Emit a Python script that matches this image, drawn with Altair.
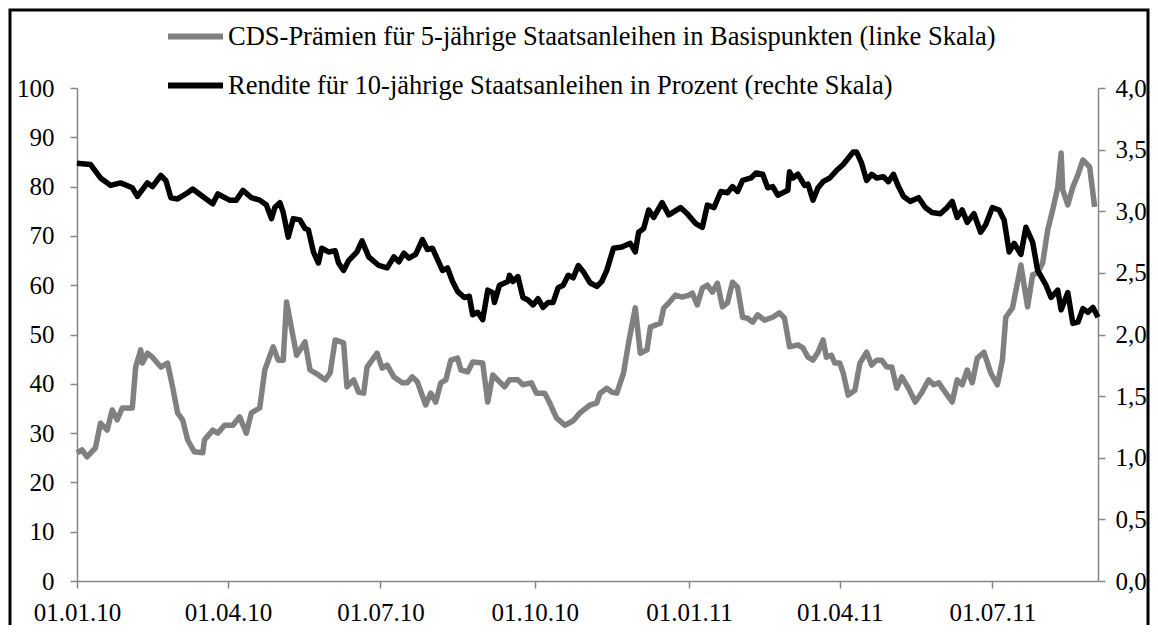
import altair as alt
import pandas as pd

LABEL_CDS = "CDS-Prämien für 5-jährige Staatsanleihen in Basispunkten (linke Skala)"
LABEL_YLD = "Rendite für 10-jährige Staatsanleihen in Prozent (rechte Skala)"

cds_dates = [
    "2010-01-01", "2010-01-04", "2010-01-07", "2010-01-12", "2010-01-15", "2010-01-19", "2010-01-22", "2010-01-25",
    "2010-01-28", "2010-02-03", "2010-02-05", "2010-02-08", "2010-02-09", "2010-02-12", "2010-02-15", "2010-02-20",
    "2010-02-24", "2010-02-27", "2010-03-02", "2010-03-05", "2010-03-08", "2010-03-12", "2010-03-17", "2010-03-18",
    "2010-03-23", "2010-03-26", "2010-03-30", "2010-04-04", "2010-04-08", "2010-04-12", "2010-04-15", "2010-04-20",
    "2010-04-23", "2010-04-28", "2010-05-01", "2010-05-04", "2010-05-06", "2010-05-12", "2010-05-17", "2010-05-20",
    "2010-05-25", "2010-05-29", "2010-06-01", "2010-06-04", "2010-06-09", "2010-06-11", "2010-06-15", "2010-06-18",
    "2010-06-21", "2010-06-23", "2010-06-26", "2010-06-29", "2010-07-02", "2010-07-05", "2010-07-09", "2010-07-14",
    "2010-07-17", "2010-07-20", "2010-07-23", "2010-07-28", "2010-07-31", "2010-08-03", "2010-08-06", "2010-08-09",
    "2010-08-12", "2010-08-16", "2010-08-18", "2010-08-22", "2010-08-25", "2010-08-31", "2010-09-03", "2010-09-06",
    "2010-09-10", "2010-09-13", "2010-09-16", "2010-09-21", "2010-09-24", "2010-09-29", "2010-10-02", "2010-10-07",
    "2010-10-10", "2010-10-14", "2010-10-19", "2010-10-24", "2010-10-28", "2010-11-03", "2010-11-07", "2010-11-09",
    "2010-11-13", "2010-11-16", "2010-11-19", "2010-11-23", "2010-11-26", "2010-11-30", "2010-12-03", "2010-12-07",
    "2010-12-09", "2010-12-15", "2010-12-17", "2010-12-20", "2010-12-24", "2010-12-28", "2011-01-01", "2011-01-03",
    "2011-01-06", "2011-01-09", "2011-01-12", "2011-01-15", "2011-01-18", "2011-01-21", "2011-01-24", "2011-01-27",
    "2011-01-30", "2011-02-02", "2011-02-05", "2011-02-08", "2011-02-11", "2011-02-15", "2011-02-20", "2011-02-24",
    "2011-02-27", "2011-03-02", "2011-03-07", "2011-03-10", "2011-03-13", "2011-03-16", "2011-03-19", "2011-03-22",
    "2011-03-24", "2011-03-27", "2011-03-29", "2011-04-01", "2011-04-03", "2011-04-06", "2011-04-10", "2011-04-13",
    "2011-04-17", "2011-04-20", "2011-04-23", "2011-04-26", "2011-04-29", "2011-05-02", "2011-05-05", "2011-05-08",
    "2011-05-12", "2011-05-16", "2011-05-20", "2011-05-24", "2011-05-27", "2011-05-30", "2011-06-02", "2011-06-05",
    "2011-06-07", "2011-06-10", "2011-06-13", "2011-06-16", "2011-06-19", "2011-06-22", "2011-06-26", "2011-06-30",
    "2011-07-04", "2011-07-07", "2011-07-09", "2011-07-13", "2011-07-18", "2011-07-22", "2011-07-25", "2011-07-28",
    "2011-07-31", "2011-08-03", "2011-08-06", "2011-08-09", "2011-08-11", "2011-08-12", "2011-08-15", "2011-08-18",
    "2011-08-21", "2011-08-24", "2011-08-28", "2011-08-31",
]
cds_values = [
    26.0, 26.6, 25.2, 27.0, 32.0, 30.6, 34.7, 32.7,
    35.1, 35.1, 43.4, 46.9, 44.2, 46.2, 45.4, 43.4,
    44.2, 39.4, 34.1, 32.7, 28.6, 26.2, 26.0, 28.6,
    30.6, 30.0, 31.6, 31.6, 33.3, 30.0, 34.1, 35.1,
    42.8, 47.5, 44.8, 44.8, 56.6, 45.8, 48.5, 42.8,
    41.8, 40.8, 42.2, 48.9, 48.3, 39.4, 40.8, 38.3,
    38.1, 43.4, 44.8, 46.2, 43.2, 43.8, 41.4, 40.2,
    40.2, 41.4, 40.4, 35.7, 38.1, 36.3, 40.2, 40.8,
    44.8, 45.2, 42.8, 42.4, 44.4, 44.2, 36.3, 41.8,
    40.4, 39.4, 40.8, 40.8, 39.8, 40.2, 38.1, 38.1,
    36.1, 33.1, 31.6, 32.5, 34.1, 35.7, 36.1, 38.1,
    39.1, 38.3, 38.1, 42.2, 48.3, 55.4, 46.2, 46.9,
    51.5, 52.3, 55.4, 56.4, 58.0, 57.6, 58.0, 58.4,
    56.0, 59.4, 60.0, 58.6, 60.4, 55.6, 56.4, 60.6,
    59.6, 53.5, 53.3, 52.5, 54.0, 52.9, 53.5, 54.4,
    53.3, 47.5, 47.9, 47.3, 45.4, 44.8, 46.4, 48.9,
    45.4, 45.8, 44.2, 44.2, 42.2, 37.7, 38.7, 44.2,
    46.4, 43.8, 44.8, 44.8, 43.4, 43.4, 39.1, 41.4,
    39.1, 36.3, 38.3, 40.8, 39.8, 40.2, 38.7, 37.3,
    36.3, 40.8, 39.8, 42.8, 40.2, 45.2, 46.4, 42.2,
    39.8, 44.8, 53.5, 55.4, 64.1, 55.6, 62.1, 62.5,
    64.5, 71.2, 75.3, 79.9, 86.8, 79.3, 76.3, 79.9,
    82.4, 85.4, 84.0, 75.9,
]

yield_dates = [
    "2010-01-01", "2010-01-09", "2010-01-15", "2010-01-21", "2010-01-27", "2010-02-03", "2010-02-06", "2010-02-12",
    "2010-02-15", "2010-02-20", "2010-02-23", "2010-02-26", "2010-03-02", "2010-03-08", "2010-03-11", "2010-03-17",
    "2010-03-23", "2010-03-26", "2010-04-02", "2010-04-06", "2010-04-10", "2010-04-15", "2010-04-20", "2010-04-24",
    "2010-04-27", "2010-04-29", "2010-05-02", "2010-05-04", "2010-05-07", "2010-05-10", "2010-05-14", "2010-05-17",
    "2010-05-19", "2010-05-22", "2010-05-25", "2010-05-27", "2010-05-31", "2010-06-04", "2010-06-06", "2010-06-09",
    "2010-06-12", "2010-06-17", "2010-06-20", "2010-06-24", "2010-06-30", "2010-07-05", "2010-07-09", "2010-07-12",
    "2010-07-15", "2010-07-18", "2010-07-22", "2010-07-26", "2010-07-29", "2010-08-01", "2010-08-07", "2010-08-10",
    "2010-08-13", "2010-08-16", "2010-08-20", "2010-08-23", "2010-08-25", "2010-08-28", "2010-08-31", "2010-09-03",
    "2010-09-06", "2010-09-07", "2010-09-10", "2010-09-15", "2010-09-16", "2010-09-18", "2010-09-21", "2010-09-24",
    "2010-09-27", "2010-09-30", "2010-10-03", "2010-10-06", "2010-10-09", "2010-10-12", "2010-10-15", "2010-10-18",
    "2010-10-21", "2010-10-24", "2010-10-27", "2010-10-30", "2010-11-03", "2010-11-07", "2010-11-10", "2010-11-13",
    "2010-11-17", "2010-11-22", "2010-11-27", "2010-11-30", "2010-12-02", "2010-12-05", "2010-12-08", "2010-12-11",
    "2010-12-16", "2010-12-20", "2010-12-27", "2010-12-31", "2011-01-05", "2011-01-09", "2011-01-12", "2011-01-16",
    "2011-01-20", "2011-01-24", "2011-01-27", "2011-01-30", "2011-02-02", "2011-02-07", "2011-02-10", "2011-02-14",
    "2011-02-17", "2011-02-20", "2011-02-23", "2011-03-01", "2011-03-02", "2011-03-04", "2011-03-07", "2011-03-11",
    "2011-03-13", "2011-03-16", "2011-03-19", "2011-03-22", "2011-03-26", "2011-03-30", "2011-04-03", "2011-04-06",
    "2011-04-09", "2011-04-11", "2011-04-14", "2011-04-17", "2011-04-20", "2011-04-23", "2011-04-27", "2011-04-30",
    "2011-05-03", "2011-05-06", "2011-05-09", "2011-05-13", "2011-05-18", "2011-05-22", "2011-05-26", "2011-05-31",
    "2011-06-04", "2011-06-07", "2011-06-10", "2011-06-13", "2011-06-16", "2011-06-20", "2011-06-24", "2011-06-27",
    "2011-07-01", "2011-07-05", "2011-07-08", "2011-07-11", "2011-07-14", "2011-07-18", "2011-07-21", "2011-07-25",
    "2011-07-28", "2011-08-02", "2011-08-05", "2011-08-09", "2011-08-11", "2011-08-15", "2011-08-18", "2011-08-21",
    "2011-08-24", "2011-08-27", "2011-08-30", "2011-09-02",
]
yield_values = [
    3.39, 3.38, 3.27, 3.21, 3.23, 3.19, 3.12, 3.23,
    3.20, 3.29, 3.25, 3.11, 3.10, 3.15, 3.18, 3.12,
    3.06, 3.14, 3.09, 3.09, 3.17, 3.11, 3.09, 3.05,
    2.94, 3.03, 3.07, 2.99, 2.79, 2.94, 2.93, 2.86,
    2.85, 2.67, 2.58, 2.70, 2.67, 2.68, 2.58, 2.52,
    2.60, 2.67, 2.76, 2.63, 2.56, 2.54, 2.63, 2.59,
    2.66, 2.62, 2.65, 2.77, 2.69, 2.70, 2.52, 2.54,
    2.43, 2.35, 2.30, 2.31, 2.16, 2.18, 2.12, 2.36,
    2.34, 2.26, 2.40, 2.43, 2.48, 2.43, 2.47, 2.30,
    2.28, 2.24, 2.29, 2.22, 2.26, 2.26, 2.38, 2.40,
    2.48, 2.46, 2.56, 2.51, 2.42, 2.39, 2.43, 2.52,
    2.70, 2.71, 2.74, 2.67, 2.83, 2.86, 3.01, 2.95,
    3.07, 2.97, 3.03, 2.98, 2.90, 2.87, 3.05, 3.03,
    3.16, 3.15, 3.20, 3.16, 3.25, 3.27, 3.31, 3.30,
    3.19, 3.20, 3.13, 3.17, 3.32, 3.27, 3.30, 3.21,
    3.22, 3.09, 3.19, 3.24, 3.27, 3.33, 3.38, 3.43,
    3.48, 3.48, 3.39, 3.25, 3.30, 3.27, 3.28, 3.24,
    3.30, 3.20, 3.12, 3.08, 3.11, 3.03, 2.99, 2.98,
    3.03, 3.08, 2.95, 3.01, 2.91, 2.98, 2.83, 2.89,
    3.03, 3.01, 2.93, 2.67, 2.74, 2.65, 2.87, 2.75,
    2.52, 2.40, 2.30, 2.36, 2.20, 2.34, 2.09, 2.10,
    2.21, 2.18, 2.22, 2.14,
]

x_tick_dates = ["2010-01-01", "2010-04-01", "2010-07-01", "2010-10-01",
                "2011-01-01", "2011-04-01", "2011-07-01"]
left_ticks = [0, 10, 20, 30, 40, 50, 60, 70, 80, 90, 100]
right_ticks = [0.0, 0.5, 1.0, 1.5, 2.0, 2.5, 3.0, 3.5, 4.0]

cds_df = pd.DataFrame({"date": cds_dates, "value": cds_values, "series": LABEL_CDS})
yld_df = pd.DataFrame({"date": yield_dates, "value": yield_values, "series": LABEL_YLD})

FONT = "Liberation Serif"
GRAY_AXIS = "#868686"


def dt(s):
    y, m, d = (int(p) for p in s.split("-"))
    return alt.DateTime(year=y, month=m, date=d, utc=True)


x_scale = alt.Scale(type="utc", domain=[dt("2010-01-01"), dt("2011-09-02")])
x_axis = alt.Axis(
    title=None, values=[dt(s) for s in x_tick_dates], format="%d.%m.%y",
    labelFlush=False, labelOverlap=False, labelPadding=12, tickSize=7,
    grid=False,
)

color_scale = alt.Scale(domain=[LABEL_CDS, LABEL_YLD], range=["#808080", "#000000"])
legend = alt.Legend(
    title=None, orient="none", legendX=88, legendY=-82, direction="vertical",
    symbolType="stroke", symbolSize=3025, symbolStrokeWidth=6,
    labelFont=FONT, labelFontSize=26.5, labelColor="black", labelLimit=2000,
    rowPadding=5, labelOffset=2, padding=0,
)
color_enc = alt.Color("series:N", scale=color_scale, legend=legend)

cds_line = alt.Chart(cds_df).mark_line(strokeWidth=5.5, strokeJoin="round").encode(
    x=alt.X("date:T", scale=x_scale, axis=x_axis),
    y=alt.Y("value:Q", scale=alt.Scale(domain=[0, 100], nice=False, zero=True),
            axis=alt.Axis(title=None, orient="left", values=left_ticks, grid=False,
                          tickSize=7, labelPadding=16)),
    color=color_enc,
)

yld_line = alt.Chart(yld_df).mark_line(strokeWidth=5.5, strokeJoin="round").encode(
    x=alt.X("date:T", scale=x_scale, axis=x_axis),
    y=alt.Y("value:Q", scale=alt.Scale(domain=[0, 4], nice=False, zero=True),
            axis=alt.Axis(title=None, orient="right", values=right_ticks, grid=False,
                          tickSize=7, labelPadding=10,
                          labelExpr="replace(format(datum.value, '.1f'), '.', ',')")),
    color=color_enc,
)

frame = alt.Chart(alt.Data(values=[{"k": 1}])).mark_rect(
    fillOpacity=0, stroke="black", strokeWidth=3
).encode(
    x=alt.value(-67), x2=alt.value(1071), y=alt.value(-78), y2=alt.value(570)
)

chart = alt.layer(cds_line, yld_line, frame).resolve_scale(
    y="independent"
).properties(
    width=1021, height=493,
    padding={"left": 69, "top": 80, "right": 52, "bottom": 44},
    autosize=alt.AutoSizeParams(type="none"),
).configure_view(
    strokeWidth=0
).configure_axis(
    labelFont=FONT, labelFontSize=25, labelColor="black",
    domainColor=GRAY_AXIS, tickColor=GRAY_AXIS, domainWidth=1.5, tickWidth=1.5,
)

chart.save("out.html", embed_options={"renderer": "svg", "actions": False})
